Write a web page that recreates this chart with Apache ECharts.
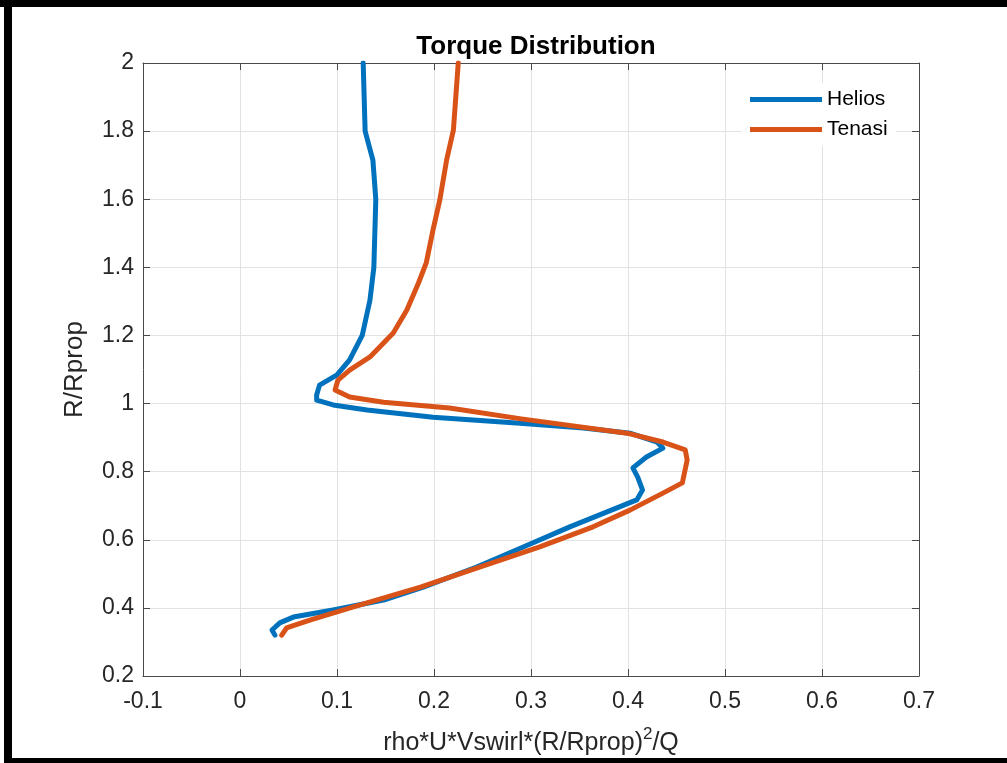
<!DOCTYPE html>
<html>
<head>
<meta charset="utf-8">
<script src="https://cdn.jsdelivr.net/npm/echarts@6/dist/echarts.min.js"></script>
<style>
html,body{margin:0;padding:0;background:#fff;}
#chart{width:1007px;height:763px;}
</style>
</head>
<body>
<div id="chart"></div>
<script>
// Data: [x value, R/Rprop]
const heliosX = [0.127,0.129,0.137,0.140,0.138,0.134,0.126,0.113,0.100,0.082,0.079,0.079,0.096,0.131,0.199,0.285,0.354,0.402,0.430,0.436,0.419,0.405,0.410,0.415,0.409,0.388,0.340,0.292,0.244,0.189,0.148,0.096,0.055,0.041,0.033,0.036];
const heliosY = [2.000,1.800,1.715,1.600,1.400,1.304,1.200,1.128,1.084,1.054,1.025,1.010,0.996,0.981,0.960,0.943,0.928,0.913,0.887,0.869,0.843,0.811,0.784,0.746,0.717,0.693,0.638,0.579,0.520,0.461,0.423,0.394,0.373,0.356,0.335,0.320];
const tenasiX = [0.225,0.220,0.213,0.206,0.199,0.192,0.184,0.172,0.158,0.134,0.113,0.101,0.098,0.113,0.148,0.216,0.290,0.399,0.436,0.459,0.461,0.456,0.436,0.402,0.364,0.309,0.247,0.186,0.117,0.072,0.048,0.043];
const tenasiY = [2.000,1.803,1.715,1.598,1.510,1.413,1.354,1.275,1.207,1.137,1.098,1.069,1.040,1.019,1.004,0.987,0.955,0.913,0.887,0.864,0.834,0.767,0.737,0.687,0.638,0.579,0.520,0.461,0.403,0.364,0.341,0.320];
const seriesNames = ['Helios','Tenasi'];
const xTicks = {min:-0.1, max:0.7, interval:0.1};
const yTicks = {min:0.2, max:2, interval:0.2};

const pair = (xs, ys) => xs.map((v,i)=>[v, ys[i]]);
const FONT = "'Liberation Sans', Arial, Helvetica, sans-serif";
const axisCol = '#4a4a4a';
const gridCol = '#e2e2e2';

const chart = echarts.init(document.getElementById('chart'), null, {renderer:'canvas'});
const baseAxis = (pos, t, show) => ({
  type:'value', position:pos, min:t.min, max:t.max, interval:t.interval,
  axisLine:{show:true, onZero:false, lineStyle:{color:axisCol, width:1}},
  axisTick:{show:true, inside:true, length:7, lineStyle:{color:axisCol}},
  axisLabel:{show:show, color:'#262626', fontFamily:FONT, fontSize:23},
  splitLine:{show:show, lineStyle:{color:gridCol, width:1}}
});
const xMain = baseAxis('bottom', xTicks, true);
xMain.axisLabel.margin = 14;
xMain.name = '{a|rho*U*Vswirl*(R/Rprop)}{s|2}{a|/Q}';
xMain.nameLocation = 'middle';
xMain.nameGap = 50;
xMain.nameTextStyle = {rich:{a:{fontFamily:FONT, fontSize:25, color:'#262626', verticalAlign:'bottom', lineHeight:30}, s:{fontFamily:FONT, fontSize:17, color:'#262626', verticalAlign:'top', lineHeight:30, padding:[0,0,12,0]}}};
const yMain = baseAxis('left', yTicks, true);
yMain.axisLabel.margin = 9;
yMain.name = 'R/Rprop';
yMain.nameLocation = 'middle';
yMain.nameGap = 55;
yMain.nameTextStyle = {fontFamily:FONT, fontSize:26, color:'#262626'};

chart.setOption({
  animation:false,
  backgroundColor:'#fff',
  title:{text:'Torque Distribution', left:531, textAlign:'center', top:29,
    textStyle:{fontFamily:FONT, fontSize:26, fontWeight:'bold', color:'#000'}},
  grid:{left:143, top:63, width:776, height:613, containLabel:false},
  legend:{orient:'vertical', left:742, top:83, backgroundColor:'#fff', padding:[6,8,6,8],
    itemWidth:72, itemHeight:5, itemGap:9, icon:'rect',
    textStyle:{fontFamily:FONT, fontSize:21, color:'#000'}, data:seriesNames},
  xAxis:[xMain, baseAxis('top', xTicks, false)],
  yAxis:[yMain, baseAxis('right', yTicks, false)],
  series:[
    {name:seriesNames[0], type:'line', data:pair(heliosX, heliosY), showSymbol:false, symbol:'none',
     smooth:false, lineStyle:{width:5, color:'#0072BD', join:'round', cap:'round'}, itemStyle:{color:'#0072BD'}, z:3},
    {name:seriesNames[1], type:'line', data:pair(tenasiX, tenasiY), showSymbol:false, symbol:'none',
     smooth:false, lineStyle:{width:5, color:'#D95319', join:'round', cap:'round'}, itemStyle:{color:'#D95319'}, z:4}
  ],
  graphic:[
    {type:'rect', shape:{x:0, y:0, width:1007, height:7}, style:{fill:'#000'}, silent:true},
    {type:'rect', shape:{x:4, y:0, width:8, height:763}, style:{fill:'#000'}, silent:true},
    {type:'rect', shape:{x:4, y:758, width:1003, height:5}, style:{fill:'#000'}, silent:true}
  ]
});
</script>
</body>
</html>
